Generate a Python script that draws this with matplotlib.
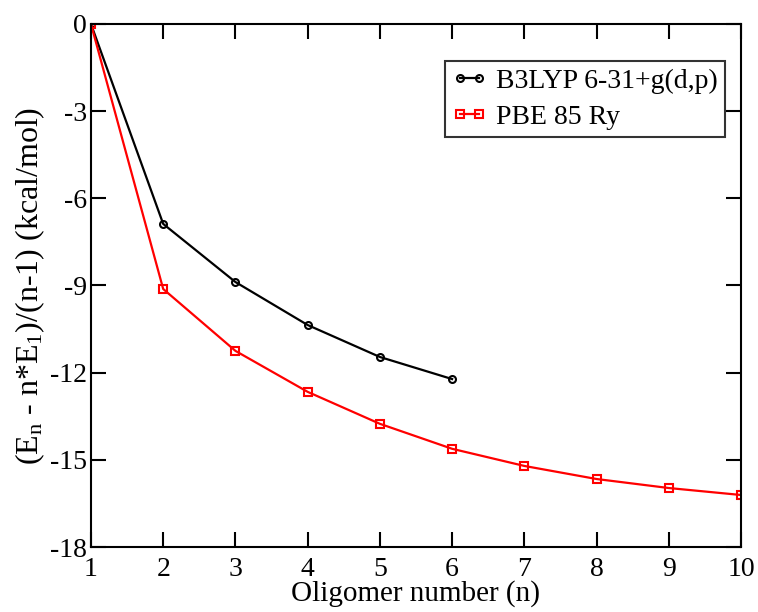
import matplotlib
matplotlib.use("Agg")
import matplotlib.pyplot as plt

n_b3lyp = [1, 2, 3, 4, 5, 6]
e_b3lyp = [0.0, -6.88, -8.88, -10.36, -11.46, -12.22]
n_pbe = [1, 2, 3, 4, 5, 6, 7, 8, 9, 10]
e_pbe = [0.0, -9.12, -11.25, -12.66, -13.76, -14.62, -15.21, -15.66, -15.97, -16.21]
xticks = [1, 2, 3, 4, 5, 6, 7, 8, 9, 10]
yticks = [0, -3, -6, -9, -12, -15, -18]

plt.rcParams['font.family'] = ['Liberation Serif', 'DejaVu Serif']
plt.rcParams['mathtext.fontset'] = 'custom'
plt.rcParams['mathtext.rm'] = 'Liberation Serif'
plt.rcParams['mathtext.it'] = 'Liberation Serif'

fig = plt.figure(figsize=(7.58, 6.12), dpi=100)
ax = fig.add_axes([0.12, 0.1062, 0.8576, 0.8546])

ax.plot(n_b3lyp, e_b3lyp, color='black', lw=1.6, marker='o', ms=5,
        mfc='none', mec='black', mew=1.5, label='B3LYP 6-31+g(d,p)')
ax.plot(n_pbe, e_pbe, color='red', lw=1.6, marker='s', ms=6,
        mfc='none', mec='red', mew=1.5, label='PBE 85 Ry')

ax.set_xlim(1, 10)
ax.set_ylim(-18, 0)
ax.set_xticks(xticks)
ax.set_yticks(yticks)
ax.set_yticklabels([str(t) for t in yticks])
ax.tick_params(direction='in', length=10.5, width=1.5, labelsize=20,
               top=True, right=True)
ax.tick_params(axis='x', pad=7)
ax.tick_params(axis='y', pad=3)
for s in ax.spines.values():
    s.set_linewidth(1.5)

ax.set_xlabel('Oligomer number (n)', fontsize=21, labelpad=-1)
ax.set_ylabel(r'(E$_\mathrm{n}$ - n*E$_\mathrm{1}$)/(n-1) (kcal/mol)', fontsize=23, labelpad=2)

leg = ax.legend(loc='upper right', bbox_to_anchor=(0.975, 0.929), borderaxespad=0,
                fontsize=20, numpoints=2, handlelength=1.3, handletextpad=0.3,
                frameon=True, fancybox=False, edgecolor='black',
                borderpad=0.25, labelspacing=0.4)
leg.get_frame().set_linewidth(1.5)

fig.savefig('out.png', dpi=100)
